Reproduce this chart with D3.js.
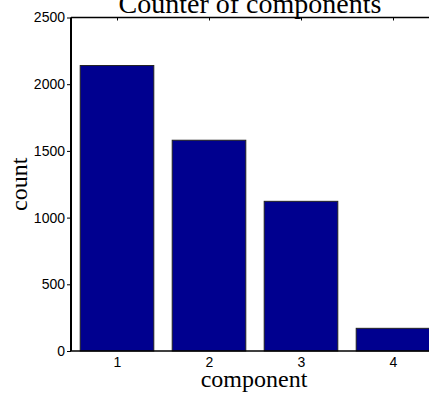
<!DOCTYPE html>
<html>
<head>
<meta charset="utf-8">
<script src="https://cdn.jsdelivr.net/npm/d3@7/dist/d3.min.js"></script>
<style>
  html, body { margin: 0; padding: 0; background: #fff; }
  svg { display: block; }
</style>
</head>
<body>
<svg id="chart" width="429" height="396"></svg>
<script>
// Component counts
const components = [1, 2, 3, 4];
const counts = [2140, 1580, 1122, 170];
const yTicks = [0, 500, 1000, 1500, 2000, 2500];

const W = 429, H = 396;
const plot = { left: 71, right: 439, top: 17.5, bottom: 351 };

const svg = d3.select("#chart");

const x = d3.scaleLinear().domain([0.5, 4.5]).range([plot.left, plot.right]);
const y = d3.scaleLinear().domain([0, 2500]).range([plot.bottom, plot.top]);
const barWidth = 0.8;
const sans = "'Liberation Sans', Arial, sans-serif";
const serif = "'Liberation Serif', 'Times New Roman', serif";

// Left axis with outward ticks
const yAxis = svg.append("g")
  .attr("transform", `translate(${plot.left},0)`)
  .call(d3.axisLeft(y).tickValues(yTicks).tickSize(4).tickPadding(2)
    .tickSizeOuter(0).tickFormat(d3.format("d")));
yAxis.select(".domain").remove();
yAxis.selectAll("line").attr("stroke", "#000");
yAxis.selectAll("text")
  .attr("font-family", sans).attr("font-size", 14).attr("fill", "#000");

// Top edge ticks, pointing down into the plot
const topAxis = svg.append("g")
  .attr("transform", `translate(0,${plot.top})`)
  .call(d3.axisTop(x).tickValues(components).tickSize(-3).tickFormat(""));
topAxis.select(".domain").remove();
topAxis.selectAll("line").attr("stroke", "#000");

// Bottom axis with category labels
const xAxis = svg.append("g")
  .attr("transform", `translate(0,${plot.bottom})`)
  .call(d3.axisBottom(x).tickValues(components).tickSize(-3).tickPadding(6)
    .tickFormat(d3.format("d")));
xAxis.select(".domain").remove();
xAxis.selectAll("line").attr("stroke", "#000");
xAxis.selectAll("text")
  .attr("font-family", sans).attr("font-size", 14).attr("fill", "#000");

// Bars
svg.append("g").selectAll("rect")
  .data(components)
  .join("rect")
  .attr("x", (d) => x(d - barWidth / 2))
  .attr("width", (d) => x(d + barWidth / 2) - x(d - barWidth / 2))
  .attr("y", (d, i) => y(counts[i]))
  .attr("height", (d, i) => y(0) - y(counts[i]))
  .attr("fill", "#00008f")
  .attr("stroke", "#222")
  .attr("stroke-width", 1);

// Axes box lines
svg.append("line")
  .attr("x1", plot.left).attr("x2", plot.right)
  .attr("y1", plot.bottom).attr("y2", plot.bottom)
  .attr("stroke", "#000").attr("stroke-width", 1.5);
svg.append("line")
  .attr("x1", plot.left).attr("x2", plot.right)
  .attr("y1", plot.top).attr("y2", plot.top)
  .attr("stroke", "#000").attr("stroke-width", 1.5);
svg.append("line")
  .attr("x1", plot.left).attr("x2", plot.left)
  .attr("y1", plot.top).attr("y2", plot.bottom)
  .attr("stroke", "#000").attr("stroke-width", 2);

// Title and axis labels
svg.append("text")
  .attr("x", (plot.left + plot.right) / 2 - 5).attr("y", 13)
  .attr("text-anchor", "middle")
  .attr("font-family", serif).attr("font-size", 28)
  .text("Counter of components");
svg.append("text")
  .attr("x", (plot.left + plot.right) / 2 - 1).attr("y", 387)
  .attr("text-anchor", "middle")
  .attr("font-family", serif).attr("font-size", 24)
  .text("component");
svg.append("text")
  .attr("transform", `translate(27,${(plot.top + plot.bottom) / 2}) rotate(-90)`)
  .attr("text-anchor", "middle")
  .attr("font-family", serif).attr("font-size", 24)
  .text("count");
</script>
</body>
</html>
